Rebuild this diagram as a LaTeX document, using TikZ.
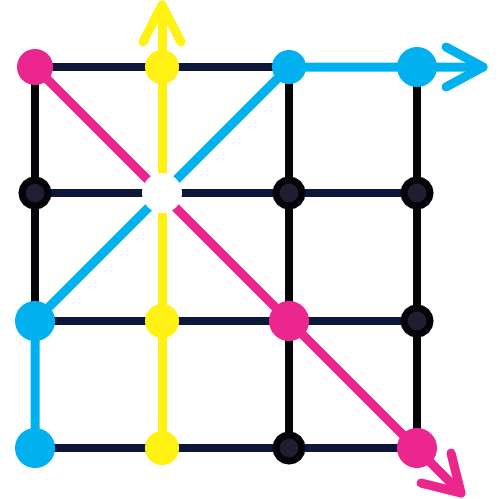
\documentclass[tikz,border=0pt]{standalone}
\usetikzlibrary{calc}
\pgfdeclarelayer{bg}
\pgfsetlayers{bg,main}
\definecolor{cpink}{HTML}{EC268F}
\definecolor{cyel}{HTML}{FFF212}
\definecolor{ccyan}{HTML}{00B0EF}
\definecolor{cnavy}{HTML}{0C1739}
\definecolor{cblk}{HTML}{050509}
\definecolor{cinner}{HTML}{1F1F33}
\begin{document}
\begin{tikzpicture}[x=1pt,y=-1pt,
  dot/.style={circle,inner sep=0pt,draw=none},
  blackdot/.style={circle,inner sep=0pt,minimum size=26pt,fill=cinner,draw=cblk,line width=7pt},
  pinkdot/.style={dot,fill=cpink,minimum size=#1},
  yeldot/.style={dot,fill=cyel,minimum size=#1},
  cyandot/.style={dot,fill=ccyan,minimum size=#1},
  whitedot/.style={dot,fill=white,minimum size=40pt},
  navyline/.style={draw=cnavy,line width=8pt},
  blkline/.style={draw=cblk,line width=8pt},
  colline/.style={line width=9pt,line cap=round,line join=round}]
\useasboundingbox (0,0) rectangle (502,498);
% row 1 (y=67)
\node[pinkdot=36pt] (n11) at (35,67) {};
\node[yeldot=34pt] (n21) at (162,67) {};
\node[cyandot=34pt] (n31) at (289,67) {};
\node[cyandot=40pt] (n41) at (417,67) {};
% row 2 (y=193)
\node[blackdot] (n12) at (35,193) {};
\node[whitedot] (n22) at (162,193) {};
\node[blackdot] (n32) at (289,193) {};
\node[blackdot] (n42) at (417,193) {};
% row 3 (y=321)
\node[cyandot=40pt] (n13) at (35,321) {};
\node[yeldot=34pt] (n23) at (162,321) {};
\node[pinkdot=40pt] (n33) at (289,321) {};
\node[blackdot] (n43) at (417,321) {};
% row 4 (y=448)
\node[cyandot=40pt] (n14) at (35,448) {};
\node[yeldot=34pt] (n24) at (162,448) {};
\node[blackdot] (n34) at (289,448) {};
\node[pinkdot=40pt] (n44) at (417,448) {};
% arrow tips
\coordinate (ty) at (162,5);
\coordinate (tc) at (483,67);
\coordinate (tp) at (461,493);
\begin{pgfonlayer}{bg}
  % grid
  \draw[navyline] (n11.center) -- (n31.center);
  \draw[navyline] (n12.center) -- (n42.center);
  \draw[navyline] (n13.center) -- (n43.center);
  \draw[navyline] (n14.center) -- (n44.center);
  \draw[blkline] (n11.center) -- (n13.center);
  \draw[blkline] (n31.center) -- (n34.center);
  \draw[blkline] (n41.center) -- (n44.center);
  % yellow
  \draw[colline,draw=cyel] (n24.center) -- (ty);
  \draw[colline,draw=cyel] ($(ty)+(-19,37)$) -- (ty) -- ($(ty)+(19,37)$);
  % pink
  \draw[colline,draw=cpink] (n11.center) -- (tp);
  \draw[colline,draw=cpink] ($(tp)+(-10,-40)$) -- (tp) -- ($(tp)+(-40,-10)$);
  % cyan
  \draw[colline,draw=ccyan] (n14.center) -- (n13.center) -- (n31.center) -- (tc);
  \draw[colline,draw=ccyan] ($(tc)+(-37,-20)$) -- (tc) -- ($(tc)+(-37,20)$);
\end{pgfonlayer}
\end{tikzpicture}
\end{document}
